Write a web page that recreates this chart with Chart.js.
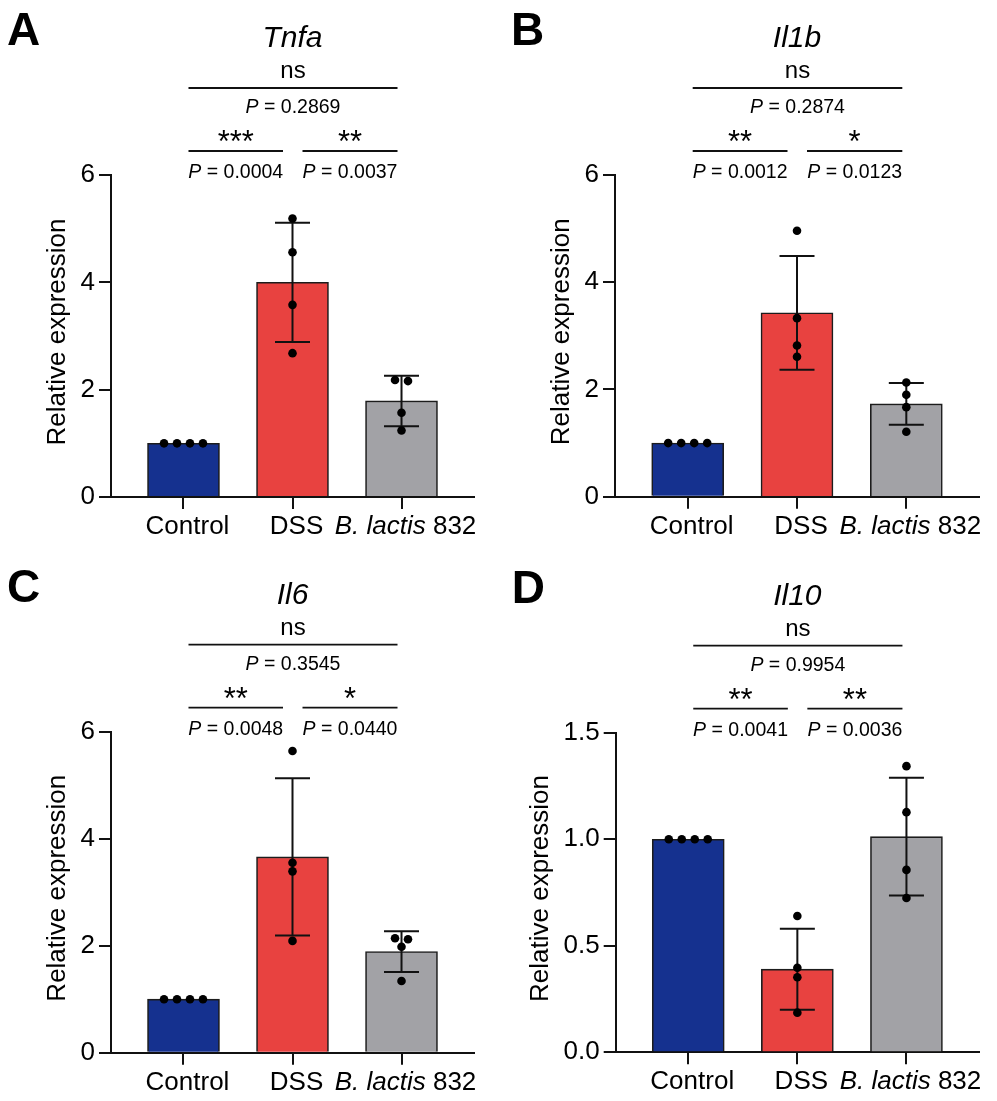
<!DOCTYPE html>
<html><head><meta charset="utf-8">
<script src="https://cdn.jsdelivr.net/npm/chart.js@4"></script>
<style>
html,body{margin:0;padding:0;background:#fff;}
body{width:997px;height:1101px;position:relative;overflow:hidden;}
canvas{position:absolute;display:block;}
</style></head><body>
<canvas id="cA"></canvas>
<canvas id="cB"></canvas>
<canvas id="cC"></canvas>
<canvas id="cD"></canvas>
<script>
// ---------- data ----------
const categories = ['Control', 'DSS', '<i>B. lactis</i> 832'];
const barColors = ['#15318f', '#e84240', '#a2a2a6'];

const tnfaMeans  = [1.0, 4.0, 1.79];
const tnfaSD     = [0, 1.11, 0.47];
const tnfaPoints = [[1, 1, 1, 1], [5.19, 4.56, 3.58, 2.68], [2.16, 2.18, 1.57, 1.24]];
const tnfaP      = ['0.0004', '0.0037', '0.2869'];
const tnfaStars  = ['***', '**', 'ns'];

const il1bMeans  = [1.0, 3.43, 1.73];
const il1bSD     = [0, 1.06, 0.39];
const il1bPoints = [[1, 1, 1, 1], [4.96, 3.33, 2.82, 2.61], [2.13, 1.90, 1.67, 1.21]];
const il1bP      = ['0.0012', '0.0123', '0.2874'];
const il1bStars  = ['**', '*', 'ns'];

const il6Means   = [1.0, 3.66, 1.89];
const il6SD      = [0, 1.47, 0.38];
const il6Points  = [[1, 1, 1, 1], [5.64, 3.55, 3.39, 2.09], [2.12, 2.14, 1.98, 1.34]];
const il6P       = ['0.0048', '0.0440', '0.3545'];
const il6Stars   = ['**', '*', 'ns'];

const il10Means  = [1.0, 0.39, 1.012];
const il10SD     = [0, 0.19, 0.276];
const il10Points = [[1, 1, 1, 1], [0.64, 0.397, 0.352, 0.186], [1.343, 1.127, 0.856, 0.724]];
const il10P      = ['0.0041', '0.0036', '0.9954'];
const il10Stars  = ['**', '**', 'ns'];

const yTicksStandard = [0, 2, 4, 6];
const yTicksIl10 = [0, 0.5, 1.0, 1.5];

// ---------- helpers ----------
const FONT = "'Liberation Sans', Arial, Helvetica, sans-serif";
const INK = '#111';
function font(size, italic, bold) { return (italic ? 'italic ' : '') + (bold ? 'bold ' : '') + size + 'px ' + FONT; }
function parseRich(s) {
  const segs = []; const re = /<i>(.*?)<\/i>/g; let last = 0, m;
  while ((m = re.exec(s))) {
    if (m.index > last) segs.push({ t: s.slice(last, m.index), i: false });
    segs.push({ t: m[1], i: true }); last = re.lastIndex;
  }
  if (last < s.length) segs.push({ t: s.slice(last), i: false });
  return segs;
}
function drawRich(ctx, s, x, y, size, align, bold) {
  const segs = parseRich(s); let w = 0;
  segs.forEach(g => { ctx.font = font(size, g.i, bold); g.w = ctx.measureText(g.t).width; w += g.w; });
  let cx = align === 'center' ? x - w / 2 : align === 'right' ? x - w : x;
  ctx.textAlign = 'left'; ctx.textBaseline = 'alphabetic';
  segs.forEach(g => { ctx.font = font(size, g.i, bold); ctx.fillText(g.t, cx, y); cx += g.w; });
  return w;
}
// simple beeswarm: points with nearly equal values are placed side by side
function swarm(values, catIndex, yMax) {
  const thr = yMax * 0.022, step = 0.119;
  const idx = values.map((v, k) => k).sort((a, b) => values[b] - values[a]);
  const groups = []; let cur = [];
  idx.forEach(k => {
    if (cur.length && Math.abs(values[cur[cur.length - 1]] - values[k]) >= thr) { groups.push(cur); cur = []; }
    cur.push(k);
  });
  if (cur.length) groups.push(cur);
  const out = [];
  groups.forEach(g => g.forEach((k, n) => out.push({ x: catIndex + (n - (g.length - 1) / 2) * step, y: values[k] })));
  return out;
}

function makeErrorBarPlugin(info) {
  return {
    id: 'errorBars',
    afterDatasetDraw(chart, args) {
      if (args.index !== 0) return;
      const ctx = chart.ctx, xs = chart.scales.x, ys = chart.scales.y;
      ctx.save(); ctx.strokeStyle = INK; ctx.lineWidth = 2;
      info.means.forEach((m, i) => {
        const sd = info.sd[i]; if (!sd) return;
        const x = xs.getPixelForValue(i), yt = ys.getPixelForValue(m + sd), yb = ys.getPixelForValue(m - sd);
        ctx.beginPath();
        ctx.moveTo(x, yt); ctx.lineTo(x, yb);
        ctx.moveTo(x - 17.5, yt); ctx.lineTo(x + 17.5, yt);
        ctx.moveTo(x - 17.5, yb); ctx.lineTo(x + 17.5, yb);
        ctx.stroke();
      });
      ctx.restore();
    }
  };
}

function makeAnnotationPlugin(info) {
  return {
    id: 'annot',
    afterDraw(chart) {
      const ctx = chart.ctx, a = chart.chartArea, xs = chart.scales.x;
      const T = a.top;
      ctx.save(); ctx.fillStyle = '#000'; ctx.strokeStyle = INK;
      drawRich(ctx, info.letter, a.left - 104, T - 130, 46, 'left', true);
      const cx = (a.left + a.right) / 2;
      drawRich(ctx, '<i>' + info.gene + '</i>', cx, T - 128, 30, 'center');
      const px = i => xs.getPixelForValue(i);
      const ends = (i, j) => [px(i) + (i === 1 ? 10 : 5), px(j) - (j === 1 ? 9.5 : 4)];
      const drawLine = (x1, x2, y) => { ctx.lineWidth = 1.8; ctx.beginPath(); ctx.moveTo(x1, y); ctx.lineTo(x2, y); ctx.stroke(); };
      const drawStars = (s, x, bottom) => {
        ctx.font = font(31); const m = ctx.measureText(s);
        ctx.textAlign = 'center'; ctx.textBaseline = 'alphabetic';
        ctx.fillText(s, x, bottom - m.actualBoundingBoxDescent);
      };
      const [l1, l2] = ends(0, 2);
      drawRich(ctx, info.stars[2], (l1 + l2) / 2, T - 97, 24, 'center');
      drawLine(l1, l2, T - 87);
      drawRich(ctx, '<i>P</i> = ' + info.p[2], (l1 + l2) / 2, T - 62, 19.5, 'center');
      [[0, 1, 0], [1, 2, 1]].forEach(([i, j, k]) => {
        const [x1, x2] = ends(i, j), mx = (x1 + x2) / 2;
        drawStars(info.stars[k], mx, T - 33);
        drawLine(x1, x2, T - 24);
        drawRich(ctx, '<i>P</i> = ' + info.p[k], mx, T + 3, 19.5, 'center');
      });
      categories.forEach((c, i) => drawRich(ctx, c, px(i) + 4, a.bottom + 37, 26, 'center'));
      ctx.font = font(26);
      const maxW = Math.max(...info.yTicks.map(v => ctx.measureText(info.fmt(v)).width));
      const tx = a.left - 12 - 4 - maxW - 16;
      ctx.translate(tx, (a.top + a.bottom) / 2 - 4);
      ctx.rotate(-Math.PI / 2);
      drawRich(ctx, 'Relative expression', 0, 0, 26, 'center');
      ctx.restore();
    }
  };
}

function makePanel(id, canvasRect, area, info) {
  const cv = document.getElementById(id);
  cv.width = canvasRect.w; cv.height = canvasRect.h;
  cv.style.left = canvasRect.x + 'px'; cv.style.top = canvasRect.y + 'px';
  cv.style.width = canvasRect.w + 'px'; cv.style.height = canvasRect.h + 'px';
  const padTop = area.t - canvasRect.y;
  const padRight = canvasRect.x + canvasRect.w - area.r;
  const yW = area.l - canvasRect.x;
  const xH = canvasRect.y + canvasRect.h - area.b;
  const yMax = info.yTicks[info.yTicks.length - 1];
  const pts = [];
  info.points.forEach((vals, i) => pts.push(...swarm(vals, i, yMax)));
  const fmt = info.fmt;
  new Chart(cv, {
    type: 'bar',
    data: {
      datasets: [
        { type: 'bar', data: info.means.map((m, i) => ({ x: i, y: m })), backgroundColor: barColors,
          borderColor: '#1c1c1c', borderWidth: 1.6, barThickness: 72, order: 2 },
        { type: 'scatter', data: pts, pointRadius: 4.3, pointBackgroundColor: '#000',
          pointBorderWidth: 0, pointHoverRadius: 4.3, order: 1 }
      ]
    },
    options: {
      responsive: false, animation: false, devicePixelRatio: 1,
      layout: { padding: { top: padTop, right: padRight, left: 0, bottom: 0 } },
      plugins: { legend: { display: false }, tooltip: { enabled: false } },
      scales: {
        x: {
          type: 'linear', min: -0.665, max: 2.665, offset: false,
          afterBuildTicks: s => { s.ticks = [0, 1, 2].map(v => ({ value: v })); },
          afterFit: s => { s.height = xH; },
          grid: { display: true, offset: false, drawOnChartArea: false, drawTicks: true, tickLength: 12, lineWidth: 2, color: INK },
          border: { display: true, width: 2, color: INK },
          ticks: { display: false }
        },
        y: {
          min: 0, max: yMax,
          afterBuildTicks: s => { s.ticks = info.yTicks.map(v => ({ value: v })); },
          afterFit: s => { s.width = yW; },
          grid: { display: true, drawOnChartArea: false, drawTicks: true, tickLength: 12, lineWidth: 2, color: INK },
          border: { display: true, width: 2, color: INK },
          ticks: { font: { size: 26, family: FONT }, color: '#000', padding: 4, callback: function (v) { return fmt(Number(v)); } }
        }
      }
    },
    plugins: [makeErrorBarPlugin(info), makeAnnotationPlugin(info)]
  });
}

const fmtInt = v => String(v);
const fmt1 = v => v.toFixed(1);

makePanel('cA', { x: 0, y: 0, w: 504, h: 557 }, { l: 111, t: 175, r: 474, b: 497 },
  { letter: 'A', gene: 'Tnfa', means: tnfaMeans, sd: tnfaSD, points: tnfaPoints, p: tnfaP, stars: tnfaStars, yTicks: yTicksStandard, fmt: fmtInt });
makePanel('cB', { x: 504, y: 0, w: 493, h: 557 }, { l: 615, t: 175, r: 979, b: 496.7 },
  { letter: 'B', gene: 'Il1b', means: il1bMeans, sd: il1bSD, points: il1bPoints, p: il1bP, stars: il1bStars, yTicks: yTicksStandard, fmt: fmtInt });
makePanel('cC', { x: 0, y: 557, w: 504, h: 544 }, { l: 111, t: 731.7, r: 474, b: 1052.7 },
  { letter: 'C', gene: 'Il6', means: il6Means, sd: il6SD, points: il6Points, p: il6P, stars: il6Stars, yTicks: yTicksStandard, fmt: fmtInt });
makePanel('cD', { x: 504, y: 557, w: 493, h: 544 }, { l: 615.7, t: 732.7, r: 979, b: 1052.3 },
  { letter: 'D', gene: 'Il10', means: il10Means, sd: il10SD, points: il10Points, p: il10P, stars: il10Stars, yTicks: yTicksIl10, fmt: fmt1 });
</script>
</body></html>
